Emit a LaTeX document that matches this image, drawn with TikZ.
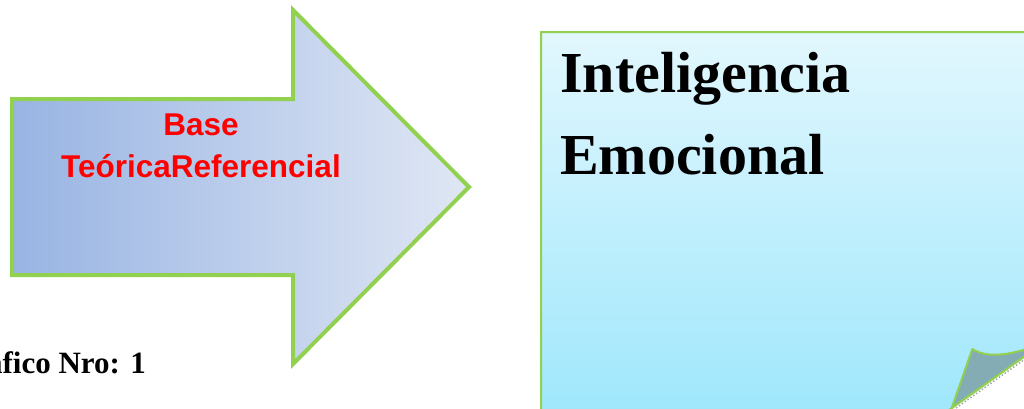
\documentclass[tikz,border=0pt]{standalone}
\usepackage{fontspec}
\setmainfont{Liberation Serif}
\newfontfamily\arialfont{Liberation Sans}
\definecolor{leafgreen}{HTML}{92D050}
\definecolor{arrowleft}{HTML}{98B4E3}
\definecolor{arrowright}{HTML}{E0E7F4}
\definecolor{papertop}{HTML}{E2F7FD}
\definecolor{paperbottom}{HTML}{9EE7FC}
\definecolor{foldgray}{HTML}{84ACB4}
\begin{document}
\begin{tikzpicture}[x=1pt,y=-1pt,
  outline/.style={draw=leafgreen},
  arrowlabel/.style={text=red,font=\arialfont\bfseries\fontsize{31.5pt}{38pt}\selectfont,inner sep=0pt},
  titletext/.style={font=\bfseries\fontsize{58pt}{70pt}\selectfont,inner sep=0pt},
  captiontext/.style={font=\bfseries\fontsize{31pt}{37pt}\selectfont,inner sep=0pt}]
\useasboundingbox (0,0) rectangle (1024,408);
\clip (0,0) rectangle (1024,408);

% block arrow pointing right
\path[outline,line width=4pt,left color=arrowleft,right color=arrowright]
  (12,99) -- (293,99) -- (293,10) -- (469,187) -- (293,364) -- (293,275) -- (12,275) -- cycle;
\node[arrowlabel,anchor=base] (base) at (201,135) {Base};
\node[arrowlabel,anchor=base] (teorica) at (201,177) {TeóricaReferencial};

% caption below the arrow
\node[captiontext,anchor=base east] (caption) at (146,373) {Gráfico Nro: 1};

% sheet of paper with a turned-up corner
\path[outline,line width=2pt,top color=papertop,bottom color=paperbottom]
  (541,420) -- (541,32) -- (1060,32) -- (1060,331.1) -- (934.8,420) -- cycle;
\coordinate (foldtip) at (972.3,349);
\coordinate (foldlow) at (951.7,408);
\coordinate (foldfar) at (1043,343.2);
\draw[gray!70,line width=1.5pt,dotted] ([shift={(1.5,2)}]foldlow) -- ([shift={(1.5,2)}]foldfar);
\path[outline,line width=2pt,fill=foldgray,line join=round]
  (foldtip) .. controls (985,357) and (1005,358) .. (foldfar) -- (foldlow) -- cycle;

\node[titletext,anchor=base west] (intel) at (560,92.7) {Inteligencia};
\node[titletext,anchor=base west] (emoc) at (560,174) {Emocional};
\end{tikzpicture}
\end{document}
